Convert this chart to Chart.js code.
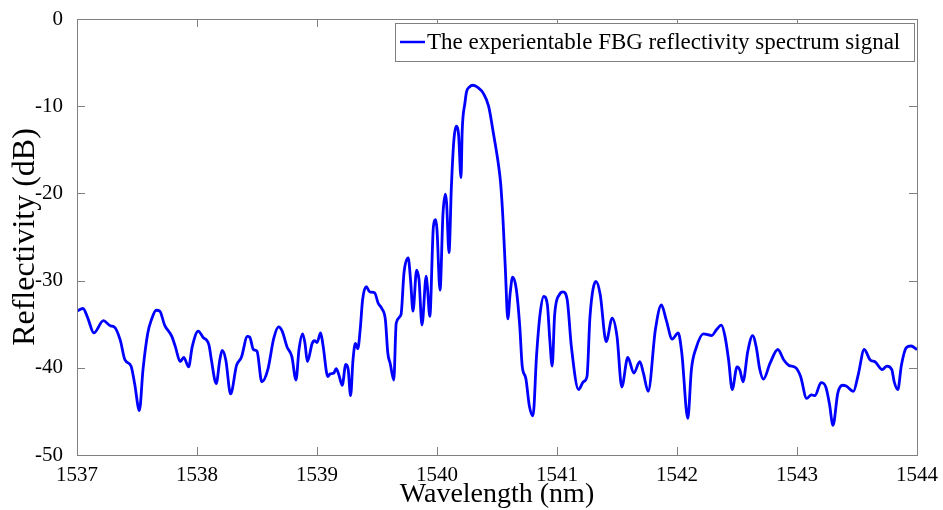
<!DOCTYPE html>
<html>
<head>
<meta charset="utf-8">
<script src="https://cdn.jsdelivr.net/npm/chart.js@4.4.1/dist/chart.umd.min.js"></script>
<style>
  html, body { margin: 0; padding: 0; background: #fff; }
  #wrap { width: 943px; height: 510px; }
</style>
</head>
<body>
<div id="wrap"><canvas id="chart" width="943" height="510"></canvas></div>
<script>
const seriesLabel = 'The experientable FBG reflectivity spectrum signal';
const xTicks = [1537, 1538, 1539, 1540, 1541, 1542, 1543, 1544];
const yTicks = [0, -10, -20, -30, -40, -50];

// wavelength (nm)
const wavelength = [
  1537.00, 1537.05, 1537.09, 1537.14, 1537.22, 1537.28, 1537.31, 1537.36, 1537.40, 1537.45,
  1537.48, 1537.52, 1537.55, 1537.59, 1537.62, 1537.66, 1537.69, 1537.73, 1537.79, 1537.82,
  1537.86, 1537.89, 1537.93, 1537.96, 1538.01, 1538.05, 1538.10, 1538.12, 1538.16, 1538.19,
  1538.21, 1538.24, 1538.28, 1538.33, 1538.37, 1538.42, 1538.44, 1538.47, 1538.50, 1538.54,
  1538.59, 1538.64, 1538.68, 1538.71, 1538.75, 1538.79, 1538.825, 1538.85, 1538.88, 1538.90,
  1538.92, 1538.96, 1538.98, 1539.00, 1539.03, 1539.05, 1539.09, 1539.11, 1539.14, 1539.16,
  1539.18, 1539.21, 1539.24, 1539.26, 1539.28, 1539.30, 1539.32, 1539.34, 1539.36, 1539.38,
  1539.41, 1539.44, 1539.48, 1539.51, 1539.54, 1539.57, 1539.59, 1539.61, 1539.64, 1539.66,
  1539.70, 1539.725, 1539.76, 1539.78, 1539.80, 1539.83, 1539.85, 1539.875, 1539.91, 1539.92,
  1539.94, 1539.97, 1539.99, 1540.00, 1540.025, 1540.05, 1540.07, 1540.08, 1540.10, 1540.12,
  1540.14, 1540.16, 1540.18, 1540.20, 1540.21, 1540.233, 1540.247, 1540.27, 1540.30, 1540.345,
  1540.385, 1540.43, 1540.47, 1540.51, 1540.53, 1540.55, 1540.57, 1540.59, 1540.61, 1540.63,
  1540.66, 1540.69, 1540.71, 1540.74, 1540.77, 1540.80, 1540.83, 1540.86, 1540.89, 1540.92,
  1540.94, 1540.96, 1540.98, 1541.02, 1541.05, 1541.085, 1541.12, 1541.18, 1541.22, 1541.25,
  1541.275, 1541.325, 1541.36, 1541.41, 1541.46, 1541.50, 1541.54, 1541.59, 1541.64, 1541.69,
  1541.72, 1541.76, 1541.82, 1541.87, 1541.91, 1541.96, 1542.01, 1542.04, 1542.09, 1542.12,
  1542.16, 1542.22, 1542.29, 1542.33, 1542.37, 1542.40, 1542.43, 1542.46, 1542.50, 1542.525,
  1542.55, 1542.59, 1542.63, 1542.66, 1542.69, 1542.72, 1542.775, 1542.84, 1542.89, 1542.93,
  1542.99, 1543.03, 1543.08, 1543.12, 1543.15, 1543.20, 1543.24, 1543.27, 1543.30, 1543.34,
  1543.38, 1543.41, 1543.47, 1543.51, 1543.56, 1543.61, 1543.65, 1543.71, 1543.75, 1543.79,
  1543.81, 1543.84, 1543.87, 1543.91, 1543.95, 1544.00,
];

// reflectivity (dB)
const reflectivity = [
  -33.5, -33.2, -34.3, -36.0, -34.6, -35.2, -35.3, -36.8, -39.1, -39.8,
  -41.8, -44.9, -40.2, -36.0, -34.5, -33.4, -33.5, -35.1, -36.4, -37.6,
  -39.3, -38.8, -39.9, -37.6, -35.8, -36.5, -37.4, -39.1, -41.8, -39.1,
  -38.0, -39.1, -43.0, -39.7, -38.8, -36.4, -36.5, -37.9, -38.1, -41.6,
  -40.2, -36.6, -35.3, -35.8, -37.6, -38.7, -41.4, -37.9, -36.1, -37.2,
  -39.3, -37.2, -36.9, -37.1, -36.0, -37.4, -41.0, -40.7, -40.6, -40.1,
  -40.7, -42.0, -39.6, -40.2, -43.2, -39.1, -37.2, -37.8, -35.6, -32.2,
  -30.7, -31.3, -31.4, -32.6, -33.2, -34.5, -38.3, -39.5, -41.4, -34.9,
  -33.9, -29.1, -27.4, -30.0, -33.5, -28.8, -29.9, -35.1, -29.5, -30.7,
  -34.1, -23.8, -23.0, -24.2, -31.1, -22.3, -20.1, -21.1, -26.8, -19.2,
  -14.0, -12.3, -13.3, -18.2, -12.8, -9.6, -8.3, -7.8, -7.6, -7.9,
  -8.5, -10.0, -13.1, -16.5, -18.8, -23.0, -28.8, -34.4, -31.4, -29.6,
  -30.9, -35.3, -39.8, -41.2, -44.4, -45.5, -38.5, -33.7, -31.8, -32.8,
  -36.8, -39.8, -34.0, -31.6, -31.3, -32.2, -37.6, -42.5, -41.6, -41.0,
  -34.1, -30.1, -31.6, -37.0, -34.3, -36.4, -42.2, -38.8, -40.6, -39.3,
  -40.6, -42.7, -35.6, -32.8, -34.5, -36.7, -36.0, -38.3, -45.8, -40.2,
  -37.7, -36.1, -36.3, -35.6, -35.1, -36.4, -39.1, -42.5, -39.9, -40.3,
  -41.6, -38.1, -36.3, -37.6, -40.2, -41.3, -39.5, -37.9, -39.1, -39.7,
  -40.0, -41.0, -43.5, -43.1, -43.2, -41.7, -42.2, -44.1, -46.6, -42.9,
  -42.0, -42.1, -42.7, -40.8, -37.9, -39.1, -39.3, -40.2, -39.8, -40.2,
  -41.6, -42.5, -39.7, -37.7, -37.5, -37.9,
];

const serif = '"Liberation Serif", "Times New Roman", serif';
const axisGray = '#808080';

// box around the plot, ticks pointing inward, legend in the top right corner
const frame = {
  id: 'frame',
  afterDraw(chart) {
    const { ctx, chartArea: a, scales } = chart;
    ctx.save();
    ctx.strokeStyle = axisGray;
    ctx.lineWidth = 1;
    ctx.strokeRect(a.left + 0.5, a.top + 0.5, a.right - a.left, a.bottom - a.top);
    ctx.beginPath();
    for (const v of xTicks) {
      const px = Math.round(scales.x.getPixelForValue(v)) + 0.5;
      ctx.moveTo(px, a.bottom); ctx.lineTo(px, a.bottom - 8);
      ctx.moveTo(px, a.top); ctx.lineTo(px, a.top + 8);
    }
    for (const v of yTicks) {
      const py = Math.round(scales.y.getPixelForValue(v)) + 0.5;
      ctx.moveTo(a.left, py); ctx.lineTo(a.left + 8, py);
      ctx.moveTo(a.right, py); ctx.lineTo(a.right - 8, py);
    }
    ctx.stroke();

    // legend
    const bx = 395, by = 23, bw = a.right - 3 - bx, bh = 38;
    ctx.fillStyle = '#fff';
    ctx.fillRect(bx, by, bw, bh);
    ctx.strokeStyle = axisGray;
    ctx.strokeRect(bx + 0.5, by + 0.5, bw, bh);
    ctx.strokeStyle = '#0000ff';
    ctx.lineWidth = 2.5;
    ctx.beginPath();
    ctx.moveTo(bx + 5, by + bh / 2); ctx.lineTo(bx + 30, by + bh / 2);
    ctx.stroke();
    ctx.fillStyle = '#000';
    ctx.font = '23px ' + serif;
    ctx.textBaseline = 'middle';
    ctx.fillText(chart.data.datasets[0].label, bx + 32, by + bh / 2 + 1);
    ctx.restore();
  },
};

new Chart(document.getElementById('chart'), {
  type: 'line',
  data: {
    datasets: [{
      label: seriesLabel,
      data: wavelength.map((w, i) => ({ x: w, y: reflectivity[i] })),
      borderColor: '#0000ff',
      borderWidth: 2.8,
      pointRadius: 0,
      cubicInterpolationMode: 'monotone',
      fill: false,
    }],
  },
  options: {
    responsive: false,
    animation: false,
    layout: { padding: { top: 19, right: 26, left: 0, bottom: 0 } },
    plugins: { legend: { display: false }, tooltip: { enabled: false } },
    scales: {
      x: {
        type: 'linear',
        min: 1537, max: 1544,
        afterBuildTicks: (s) => { s.ticks = xTicks.map(v => ({ value: v })); },
        afterFit: (s) => { s.height = 55; },
        grid: { display: false },
        border: { display: false },
        ticks: { color: '#000', font: { family: serif, size: 21 }, padding: 0, maxRotation: 0, callback: (v) => String(v) },
        title: { display: true, text: 'Wavelength (nm)', color: '#000', font: { family: serif, size: 28, lineHeight: 1.1 }, padding: { top: 0, bottom: 0 } },
      },
      y: {
        min: -50, max: 0,
        afterBuildTicks: (s) => { s.ticks = yTicks.map(v => ({ value: v })); },
        afterFit: (s) => { s.width = 77; },
        grid: { display: false },
        border: { display: false },
        ticks: { color: '#000', font: { family: serif, size: 21 }, padding: 6, callback: (v) => String(v) },
        title: { display: true, text: 'Reflectivity (dB)', color: '#000', font: { family: serif, size: 32 }, padding: { top: 6, bottom: 0 } },
      },
    },
  },
  plugins: [frame],
});
</script>
</body>
</html>
